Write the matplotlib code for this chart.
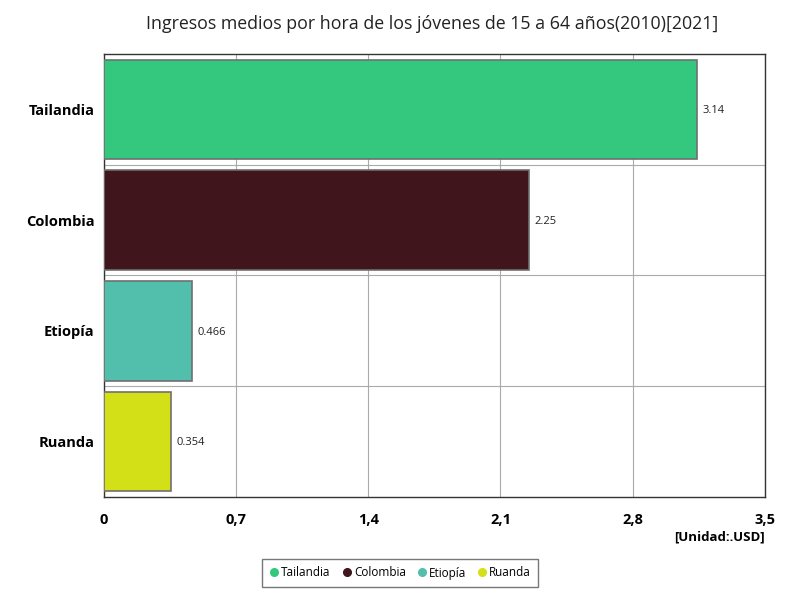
import matplotlib.pyplot as plt
from matplotlib.lines import Line2D

plt.rcParams['font.family'] = ['Open Sans', 'DejaVu Sans']

countries = ['Tailandia', 'Colombia', 'Etiopía', 'Ruanda']
values = [3.14, 2.25, 0.466, 0.354]
labels = ['3.14', '2.25', '0.466', '0.354']
colors = ['#34c77e', '#40151b', '#52bfad', '#d4e017']
xticks = [0, 0.7, 1.4, 2.1, 2.8, 3.5]
xticklabels = ['0', '0,7', '1,4', '2,1', '2,8', '3,5']

fig = plt.figure(figsize=(8, 6), dpi=100)
ax = fig.add_axes([0.13, 0.172, 0.826, 0.738])

pos = list(range(len(countries)))
ax.barh(pos, values, height=0.9, color=colors, edgecolor='#707070', linewidth=1.2, zorder=3)
for p, v, t in zip(pos, values, labels):
    ax.text(v + 0.03, p, t, va='center_baseline', ha='left', fontsize=8, color='#222222', zorder=4)

ax.set_xlim(0, 3.5)
ax.set_ylim(len(countries) - 0.5, -0.5)
ax.set_xticks(xticks)
ax.set_xticklabels(xticklabels, fontsize=10.5, fontweight='bold')
ax.set_yticks(pos)
ax.set_yticklabels(countries, fontsize=10.5, fontweight='bold')
ax.tick_params(axis='y', length=0, pad=7)
ax.tick_params(axis='x', length=0, pad=12)
ax.set_yticks([0.5, 1.5, 2.5], minor=True)
ax.tick_params(which='minor', length=0)
ax.grid(True, axis='x', which='major', color='#aaaaaa', linewidth=0.8, zorder=0)
ax.grid(True, axis='y', which='minor', color='#aaaaaa', linewidth=0.8, zorder=0)
for s in ax.spines.values():
    s.set_color('#333333')
    s.set_linewidth(1)

fig.text(0.54, 0.96, 'Ingresos medios por hora de los jóvenes de 15 a 64 años(2010)[2021]',
         ha='center', va='center', fontsize=12.8, color='#222222')
fig.text(0.956, 0.105, '[Unidad:.USD]', ha='right', va='center', fontsize=9.5, fontweight='bold')

handles = [Line2D([], [], marker='o', linestyle='', markersize=5.5, color=c) for c in colors]
leg = fig.legend(handles, countries, loc='center', bbox_to_anchor=(0.5, 0.045), ncol=4,
                 fontsize=8.5, frameon=True, fancybox=False, handletextpad=0.15,
                 handlelength=0.9, columnspacing=0.9, borderpad=0.6)
leg.get_frame().set_edgecolor('#555555')
leg.get_frame().set_linewidth(1)

fig.savefig('out.png', dpi=100)
